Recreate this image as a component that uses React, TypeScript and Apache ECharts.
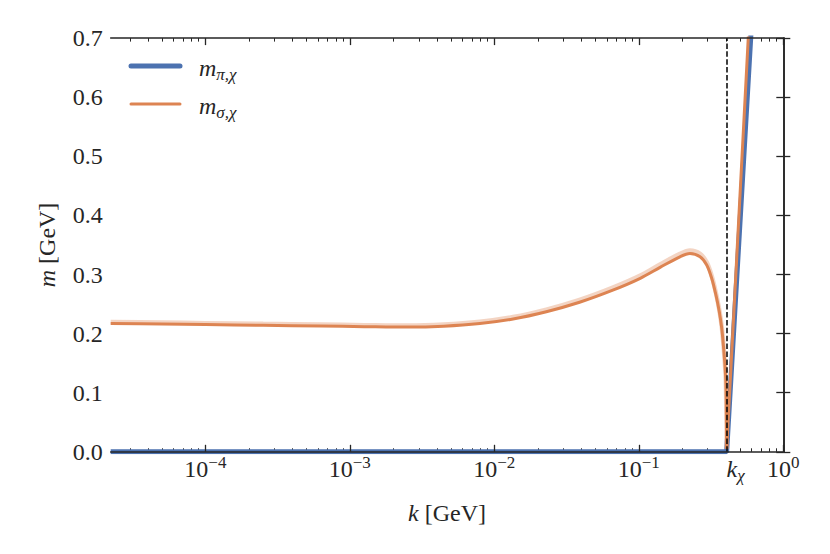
import React, { useEffect, useRef } from "react";
import * as echarts from "echarts";

// ---------- data (x stored as log10 of k in GeV) ----------
const xMinLog10K = -4.655;
const xMaxLog10K = 0;
const majorExponents = [-4, -3, -2, -1, 0];
const minorMultipliers = [2, 3, 4, 5, 6, 7, 8, 9];
const kChiLog10 = -0.392;

const yMin = 0;
const yMax = 0.7;
const yStep = 0.1;

// m_pi (blue)
const piLog10K = [-4.655, -0.392, -0.2256, -0.19];
const piMass = [0, 0, 0.7, 0.85];

// m_sigma below k_chi (orange)
const sigmaLog10K = [
  -4.655, -4.3, -4.0, -3.6, -3.2, -2.9, -2.6, -2.35, -2.1, -1.87, -1.64,
  -1.41, -1.18, -0.99, -0.85, -0.715, -0.646, -0.576, -0.53, -0.4955, -0.466,
  -0.443, -0.426, -0.415, -0.4055, -0.3986, -0.3955, -0.393, -0.392,
];
const sigmaMass = [
  0.2172, 0.2161, 0.2152, 0.214, 0.2128, 0.2118, 0.211, 0.2125, 0.217,
  0.2247, 0.237, 0.253, 0.2735, 0.2936, 0.3125, 0.33, 0.3355, 0.33, 0.316,
  0.2936, 0.265, 0.237, 0.209, 0.181, 0.152, 0.124, 0.09, 0.04, 0.005,
];
// centre of the light uncertainty band drawn just above m_sigma
const sigmaUpper = [
  0.2197, 0.2186, 0.2177, 0.2165, 0.2153, 0.2143, 0.2135, 0.2153, 0.22,
  0.228, 0.2406, 0.257, 0.2778, 0.2982, 0.3175, 0.335, 0.3405, 0.335, 0.3205,
  0.2976, 0.2685, 0.24, 0.2115, 0.183, 0.1535, 0.125, 0.09, 0.04, 0.005,
];

// m_sigma above k_chi
const sigmaHighLog10K = [-0.392, -0.242, -0.2];
const sigmaHighMass = [0.005, 0.7024, 0.9];

// ---------- styles ----------
const BLUE = "#4C72B0";
const ORANGE = "#DD8452";
const INK = "#262626";
const SERIF = "Liberation Serif";

const zip = (xs: number[], ys: number[]) => xs.map((x, i) => [x, ys[i]]);

const supText = (e: number) => (e < 0 ? "\u2212" + String(-e) : String(e));

export default function App() {
  const ref = useRef<HTMLDivElement>(null);

  useEffect(() => {
    if (!ref.current) return;
    const chart = echarts.init(ref.current, undefined, { renderer: "svg" });

    const minorLogs: number[] = [];
    for (let e = -5; e <= -1; e++) {
      for (const d of minorMultipliers) {
        const v = Math.log10(d) + e;
        if (v > xMinLog10K && v < xMaxLog10K) minorLogs.push(v);
      }
    }

    const hidden = {
      axisLine: { show: false },
      axisTick: { show: false },
      axisLabel: { show: false },
      splitLine: { show: false },
    };

    const frameLine = { show: true, lineStyle: { color: INK, width: 1.6 } };

    const xBase = {
      type: "value" as const,
      min: xMinLog10K,
      max: xMaxLog10K,
      gridIndex: 0,
    };

    const labelRich = {
      b: { fontSize: 24, fontFamily: SERIF, color: INK, lineHeight: 30 },
      e: {
        fontSize: 17,
        fontFamily: SERIF,
        color: INK,
        lineHeight: 14,
        verticalAlign: "top",
      },
      k: {
        fontSize: 24,
        fontFamily: SERIF,
        fontStyle: "italic",
        color: INK,
        lineHeight: 30,
      },
      c: {
        fontSize: 17,
        fontFamily: SERIF,
        fontStyle: "italic",
        color: INK,
        lineHeight: 16,
        verticalAlign: "bottom",
      },
    };

    const smoothLine = {
      type: "line",
      xAxisIndex: 0,
      yAxisIndex: 0,
      showSymbol: false,
      symbol: "none",
      smooth: 0.3,
    };

    const legendRich = {
      m: { fontSize: 24, fontFamily: SERIF, fontStyle: "italic", fill: INK, lineHeight: 30 },
      s: {
        fontSize: 17,
        fontFamily: SERIF,
        fontStyle: "italic",
        fill: INK,
        lineHeight: 16,
        verticalAlign: "bottom",
      },
    };

    const option: any = {
      animation: false,
      textStyle: { fontFamily: SERIF, color: INK },
      grid: { left: 110.7, right: 46.7, top: 38.1, bottom: 102.2 },
      xAxis: [
        {
          ...xBase,
          ...hidden,
          position: "bottom",
          axisLine: frameLine,
          axisTick: {
            show: true,
            inside: true,
            length: 7,
            lineStyle: { color: INK, width: 1.3 },
            customValues: majorExponents,
          },
          axisLabel: {
            show: true,
            margin: 2,
            fontFamily: SERIF,
            customValues: majorExponents,
            formatter: (v: number) => `{b|10}{e|${supText(Math.round(v))}}`,
            rich: labelRich,
          },
          name: "{k|k} [GeV]",
          nameLocation: "middle",
          nameGap: 46,
          nameTextStyle: {
            fontSize: 24,
            fontFamily: SERIF,
            color: INK,
            rich: labelRich,
          },
          z: 10,
        },
        {
          ...xBase,
          ...hidden,
          position: "bottom",
          axisTick: {
            show: true,
            inside: true,
            length: 3.5,
            lineStyle: { color: INK, width: 1 },
            customValues: minorLogs,
          },
        },
        {
          ...xBase,
          ...hidden,
          position: "top",
          axisLine: frameLine,
          axisTick: {
            show: true,
            inside: true,
            length: 7,
            lineStyle: { color: INK, width: 1.3 },
            customValues: majorExponents,
          },
          z: 10,
        },
        {
          ...xBase,
          ...hidden,
          position: "top",
          axisTick: {
            show: true,
            inside: true,
            length: 3.5,
            lineStyle: { color: INK, width: 1 },
            customValues: minorLogs,
          },
        },
        {
          ...xBase,
          ...hidden,
          position: "bottom",
          axisLabel: {
            show: true,
            margin: 2,
            fontFamily: SERIF,
            customValues: [kChiLog10],
            formatter: () => "{k|k}{c|\u03c7}",
            rich: labelRich,
            padding: [0, 0, 0, 18],
          },
        },
      ],
      yAxis: [
        {
          type: "value",
          min: yMin,
          max: yMax,
          interval: yStep,
          position: "left",
          axisLine: frameLine,
          axisTick: {
            show: true,
            inside: true,
            length: 7,
            lineStyle: { color: INK, width: 1.3 },
          },
          axisLabel: {
            margin: 8,
            fontSize: 24,
            fontFamily: SERIF,
            color: INK,
            formatter: (v: number) => v.toFixed(1),
          },
          splitLine: { show: false },
          name: "{i|m} [GeV]",
          nameLocation: "middle",
          nameRotate: 90,
          nameGap: 52,
          nameTextStyle: {
            fontSize: 24,
            fontFamily: SERIF,
            color: INK,
            rich: {
              i: { fontSize: 24, fontFamily: SERIF, fontStyle: "italic", color: INK },
            },
          },
          z: 10,
        },
        {
          type: "value",
          min: yMin,
          max: yMax,
          interval: yStep,
          position: "right",
          axisLine: frameLine,
          axisTick: {
            show: true,
            inside: true,
            length: 7,
            lineStyle: { color: INK, width: 1.3 },
          },
          axisLabel: { show: false },
          splitLine: { show: false },
          z: 10,
        },
      ],
      series: [
        {
          name: "m_pi",
          type: "line",
          xAxisIndex: 0,
          yAxisIndex: 0,
          data: zip(piLog10K, piMass),
          showSymbol: false,
          symbol: "none",
          lineStyle: { color: BLUE, width: 5 },
          z: 2,
        },
        {
          ...smoothLine,
          name: "m_sigma band",
          silent: true,
          data: zip(sigmaLog10K, sigmaUpper),
          lineStyle: { color: ORANGE, width: 4.5, opacity: 0.35 },
          z: 3,
        },
        {
          ...smoothLine,
          name: "m_sigma",
          data: zip(sigmaLog10K, sigmaMass),
          lineStyle: { color: ORANGE, width: 3 },
          z: 4,
        },
        {
          name: "m_sigma high",
          type: "line",
          xAxisIndex: 0,
          yAxisIndex: 0,
          data: zip(sigmaHighLog10K, sigmaHighMass),
          showSymbol: false,
          symbol: "none",
          lineStyle: { color: ORANGE, width: 3 },
          z: 4,
          markLine: {
            silent: true,
            symbol: ["none", "none"],
            label: { show: false },
            lineStyle: { color: "#000", width: 1.5, type: [5.5, 2.4] },
            data: [{ xAxis: kChiLog10 }],
            z: 6,
          },
        },
      ],
      graphic: [
        {
          type: "line",
          shape: { x1: 131, y1: 66, x2: 180, y2: 66 },
          style: { stroke: BLUE, lineWidth: 5, lineCap: "round" },
          z: 20,
        },
        {
          type: "line",
          shape: { x1: 131, y1: 104, x2: 180, y2: 104 },
          style: { stroke: ORANGE, lineWidth: 3, lineCap: "round" },
          z: 20,
        },
        {
          type: "text",
          x: 199,
          y: 68,
          style: {
            text: "{m|m}{s|\u03c0,\u03c7}",
            verticalAlign: "middle",
            align: "left",
            font: "24px Liberation Serif",
            rich: legendRich,
          },
          z: 20,
        },
        {
          type: "text",
          x: 199,
          y: 106,
          style: {
            text: "{m|m}{s|\u03c3,\u03c7}",
            verticalAlign: "middle",
            align: "left",
            font: "24px Liberation Serif",
            rich: legendRich,
          },
          z: 20,
        },
      ],
    };

    chart.setOption(option);
    return () => chart.dispose();
  }, []);

  return (
    <div
      ref={ref}
      style={{ position: "fixed", left: 0, top: 0, width: 830, height: 554, background: "#fff" }}
    />
  );
}
